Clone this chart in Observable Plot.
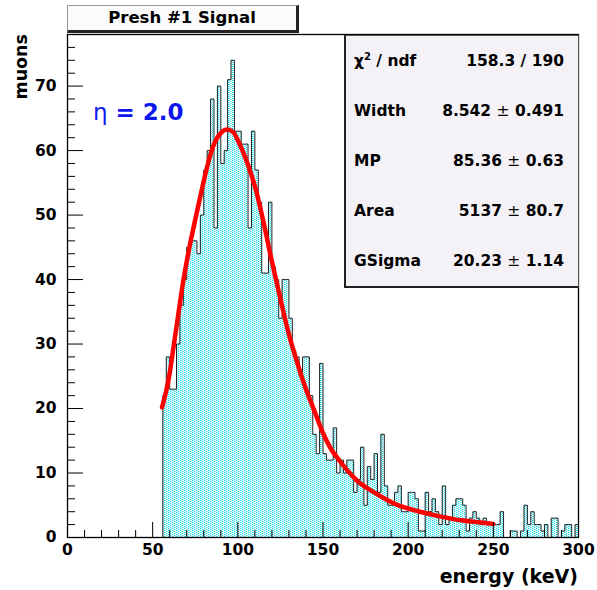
<!DOCTYPE html>
<html><head><meta charset="utf-8">
<script src="https://cdn.jsdelivr.net/npm/d3@7"></script>
<script src="https://cdn.jsdelivr.net/npm/@observablehq/plot@0.6"></script>
<style>
body{margin:0;background:#fff;}
#wrap{position:relative;width:597px;height:590px;font-family:"DejaVu Sans",sans-serif;font-weight:bold;color:#000;}
#wrap svg{position:absolute;left:0;top:0;}
.ov{position:absolute;white-space:nowrap;}
#title{left:67px;top:5px;width:228px;height:24px;background:#fbfbfb;border:1px solid #999;border-right:3px solid #222;border-bottom:3px solid #222;font-size:16.5px;line-height:24px;text-align:center;}
#stats{left:344px;top:35px;width:232px;height:250px;background:#f4f2f6;border:1px solid #555;border-left:2px solid #222;border-bottom:2px solid #222;display:flex;flex-direction:column;}
#stats .row{flex:1;display:flex;align-items:center;justify-content:space-between;padding:0 14px 0 8px;font-size:15.5px;}
#stats .pm{font-weight:normal;}
#eta{left:93px;top:99px;font-size:23px;color:#0b17ee;}
#eta .g{font-weight:normal;}
#xlab{right:19px;top:565px;font-size:19px;}
#ylab{left:11px;top:34px;font-size:17.5px;transform-origin:0 0;transform:rotate(-90deg) translate(-100%,0);}
</style></head><body><div id="wrap"></div>
<script>
// ---- data ----
const binEdges = [56,58,60,62,64,66,68,70,72,74,76,78,80,82,84,86,88,90,92,94,96,98,100,102,104,106,108,110,112,114,116,118,120,122,124,126,128,130,132,134,136,138,140,142,144,146,148,150,152,154,156,158,160,162,164,166,168,170,172,174,176,178,180,182,184,186,188,190,192,194,196,198,200,202,204,206,208,210,212,214,216,218,220,222,224,226,228,230,232,234,236,238,240,242,244,246,248,250,252,254,256,258,260,262,264,266,268,270,272,274,276,278,280,282,284,286,288,290,292,294,296,298,300];
const counts = [
  22,28,23,23,30,36,40,45,46,46,
  44,50,57,60,68,48,70,58,60,71,
  74,63,63,61,61,48,63,57,52,41,
  41,52,42,40,34,40,40,34,29,28,
  25,28,28,22,16,13,27,13,12,12,
  17,10,12,10,12,12,7,9,14,5,
  11,9,13,7,16,8,5,5,7,8,
  4,4,7,7,6,1,1,7,4,6,
  4,2,8,2,3,5,6,6,5,1,
  3,4,3,2,3,2,2,2,2,4,
  0,0,1,1,0,1,5,2,4,2,
  2,1,2,0,3,3,0,1,2,2,
  0,2
];
const fitEnergy = [55.5,58,60,62.5,65,67.5,70,72.5,75,77.5,80,82.5,85,87.5,90,92.5,95,97.5,100,105,110,115,120,125,130,135,140,145,150,155,160,165,170,175,180,185,190,195,200,210,220,230,240,250];
const fitValue  = [20.2,22.8,25.5,30,34.5,39,42.8,46.2,49.3,52.3,55.3,58,60.3,61.8,62.7,63.2,63.2,62.8,61.6,58.5,54.5,49,42.8,37,31.5,27,23,19.6,16.2,13.6,11.8,10.2,8.8,7.8,7.0,6.2,5.5,4.9,4.5,3.8,3.2,2.7,2.4,2.1];
const xMajorTicks = [0,50,100,150,200,250,300];
const xMinorTicks = [10,20,30,40,60,70,80,90,110,120,130,140,160,170,180,190,210,220,230,240,260,270,280,290];
const yMajorTicks = [0,10,20,30,40,50,60,70];
const yMinorTicks = [2,4,6,8,12,14,16,18,22,24,26,28,32,34,36,38,42,44,46,48,52,54,56,58,62,64,66,68,72,74,76];
const titleText = "Presh #1 Signal";
const etaSymbol = "η";
const etaValue = " = 2.0";
const xLabel = "energy (keV)";
const yLabel = "muons";
const statNames = ["χ<sup style='font-size:10px'>2</sup> / ndf","Width","MP","Area","GSigma"];
const statCentral = ["158.3 / 190","8.542","85.36","5137","20.23"];
const statErrors = [null,"0.491","0.63","80.7","1.14"];

// ---- build ----
const bins = counts.map((c,i)=>({x1:binEdges[i], x2:binEdges[i+1], y:c}));
const stepPts = [{x:binEdges[0], y:0}, ...counts.map((c,i)=>({x:binEdges[i], y:c})),
  {x:binEdges[binEdges.length-1], y:counts[counts.length-1]}, {x:binEdges[binEdges.length-1], y:0}];
const fit = fitEnergy.map((e,i)=>({x:e, y:fitValue[i]}));

const font = {fontFamily:"DejaVu Sans", fontWeight:"bold", fontSize:15.5};
const svg = Plot.plot({
  width:597, height:590,
  marginLeft:67, marginRight:19, marginTop:34, marginBottom:53,
  style:{background:"transparent", color:"black", fontFamily:"DejaVu Sans"},
  x:{domain:[0,300]},
  y:{domain:[0,78]},
  marks:[
    Plot.rectY(bins, {x1:"x1", x2:"x2", y:"y", fill:"url(#cyanpat)"}),
    Plot.line(stepPts, {x:"x", y:"y", curve:"step-after", stroke:"#222", strokeWidth:1}),
    Plot.line(fit, {x:"x", y:"y", curve:"catmull-rom", stroke:"#ff0000", strokeWidth:4.5}),
    Plot.axisX({ticks:xMinorTicks, tickSize:-7, tickFormat:()=>"", label:null}),
    Plot.axisX({ticks:xMajorTicks, tickSize:-15, tickFormat:()=>"", label:null}),
    Plot.axisX({ticks:xMajorTicks, tickSize:0, tickPadding:6, label:null, ...font}),
    Plot.axisY({ticks:yMinorTicks, tickSize:-8, tickFormat:()=>"", label:null}),
    Plot.axisY({ticks:yMajorTicks, tickSize:-16, tickFormat:()=>"", label:null}),
    Plot.axisY({ticks:yMajorTicks, tickSize:0, tickPadding:11, label:null, ...font}),
    Plot.frame({stroke:"black", strokeWidth:1.3})
  ]
});
const defs = d3.select(svg).insert("defs", ":first-child");
const pat = defs.append("pattern").attr("id","cyanpat").attr("patternUnits","userSpaceOnUse").attr("width",4).attr("height",2);
pat.append("rect").attr("width",4).attr("height",2).attr("fill","#eefbfc");
pat.append("rect").attr("x",0).attr("y",0).attr("width",1).attr("height",1).attr("fill","#10e0ee");
pat.append("rect").attr("x",2).attr("y",1).attr("width",1).attr("height",1).attr("fill","#10e0ee");
pat.append("rect").attr("x",1).attr("y",0).attr("width",1).attr("height",1).attr("fill","#7eecf4");
pat.append("rect").attr("x",3).attr("y",1).attr("width",1).attr("height",1).attr("fill","#c6dfe6");

const wrap = document.getElementById("wrap");
wrap.appendChild(svg);
function ov(id, html){const d=document.createElement("div");d.className="ov";d.id=id;d.innerHTML=html;wrap.appendChild(d);return d;}
ov("title", titleText);
ov("eta", `<span class="g">${etaSymbol}</span>${etaValue}`);
ov("xlab", xLabel);
ov("ylab", yLabel);
ov("stats", statNames.map((n,i)=>`<div class="row"><span>${n}</span><span>${statCentral[i]}${statErrors[i]?` <span class="pm">±</span> ${statErrors[i]}`:""}</span></div>`).join(""));
</script></body></html>
